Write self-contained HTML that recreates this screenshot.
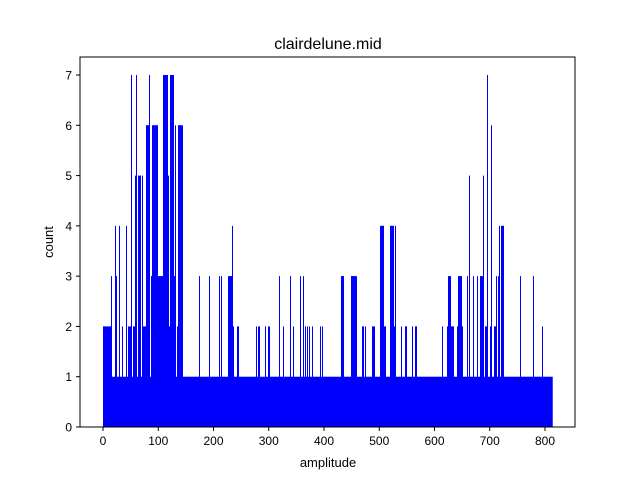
<!DOCTYPE html>
<html><head><meta charset="utf-8"><style>
body{margin:0;background:#fff}
svg{display:block;font-family:"Liberation Sans","DejaVu Sans",sans-serif}
</style></head><body>
<svg id="chart" width="640" height="480">
<rect width="640" height="480" fill="#fff"/>
<text x="328" y="49" font-size="16" text-anchor="middle">clairdelune.mid</text>
<text x="328" y="467" font-size="13" text-anchor="middle">amplitude</text>
<text x="53" y="242" font-size="13" text-anchor="middle" transform="rotate(-90 53 242)">count</text>
<g id="bars"></g>
<g id="axes"></g>
</svg>
<script>
const baseStart = 0;
const baseEnd = 813;
const baseCount = 1;
const spikeStart = [0,13,16,22,25,29,36,43,47,51,55,58,60,65,71,74,78,85,87,90,101,109,110,117,118,119,120,123,129,130,132,134,136,
174,192,210,215,228,234,236,243,246,277,281,284,295,299,302,320,326,339,344,357,362,366,371,374,380,393,398,431,449,469,475,487,492,503,509,521,527,530,541,547,560,565,
615,623,626,630,641,644,649,659,664,670,677,683,687,688,692,696,701,703,704,708,712,715,717,722,755,780,795];
const spikeEnd = [11,15,16,22,25,29,36,43,50,51,57,58,60,68,71,77,84,85,88,99,108,109,116,117,118,119,122,128,129,130,132,135,143,
174,192,210,215,233,234,236,243,246,277,281,284,295,299,302,320,326,339,344,357,362,366,371,374,380,393,398,436,458,472,475,490,492,508,512,526,529,530,541,550,560,568,
615,623,629,635,641,648,651,659,664,670,677,686,687,688,695,696,701,703,704,711,712,715,717,725,755,780,795];
const spikeCount = [2,2,3,4,3,4,2,4,2,7,2,5,7,5,5,2,6,7,3,6,3,2,7,6,2,5,2,7,2,3,6,2,6,
3,3,3,3,3,4,2,2,2,2,2,2,2,2,2,3,2,3,2,3,3,2,2,2,2,2,2,3,3,2,2,2,2,4,2,4,2,4,2,2,2,2,
2,2,3,2,2,3,2,3,5,3,3,3,2,5,2,7,2,4,6,2,3,3,4,4,3,3,2];
const xTicks = [0,100,200,300,400,500,600,700,800];
const yTicks = [0,1,2,3,4,5,6,7];

const L=80,R=575,T=57,B=427;
function xs(v){return 103 + v*0.5525;}
function ys(v){return B - v*(352/7);}
const NS='http://www.w3.org/2000/svg';
const bars=document.getElementById('bars');
function bar(a,c,name){
  const r=document.createElementNS(NS,'rect');
  r.setAttribute('x',Math.floor(xs(a)));
  r.setAttribute('y',ys(c));
  r.setAttribute('width',1);
  r.setAttribute('height',ys(0)-ys(c));
  r.setAttribute('fill','#0000ff');
  
  
  bars.appendChild(r);
}
bar(baseStart, baseCount, 'baseline-bars');
bars.lastChild.setAttribute('width', xs(baseEnd+1)-xs(baseStart));
for(let i=0;i<spikeStart.length;i++){
  for(let a=spikeStart[i];a<=spikeEnd[i];a++){ bar(a,spikeCount[i],'bar-'+a); }
}
const ax=document.getElementById('axes');
let h='<rect x="'+L+'" y="'+T+'" width="'+(R-L)+'" height="'+(B-T)+'" fill="none" stroke="#000" stroke-width="1"/>';
xTicks.forEach(t=>{const x=xs(t);
 h+='<line x1="'+x+'" y1="'+B+'" x2="'+x+'" y2="'+(B+4)+'" stroke="#000"/>';
 h+='<text x="'+x+'" y="'+(B+18)+'" font-size="12" text-anchor="middle">'+t+'</text>';});
yTicks.forEach(t=>{const y=ys(t);
 h+='<line x1="'+(L-4)+'" y1="'+y+'" x2="'+L+'" y2="'+y+'" stroke="#000"/>';
 h+='<text x="'+(L-8)+'" y="'+(y+4.5)+'" font-size="12" text-anchor="end">'+t+'</text>';});
ax.innerHTML=h;
</script>
</body></html>
